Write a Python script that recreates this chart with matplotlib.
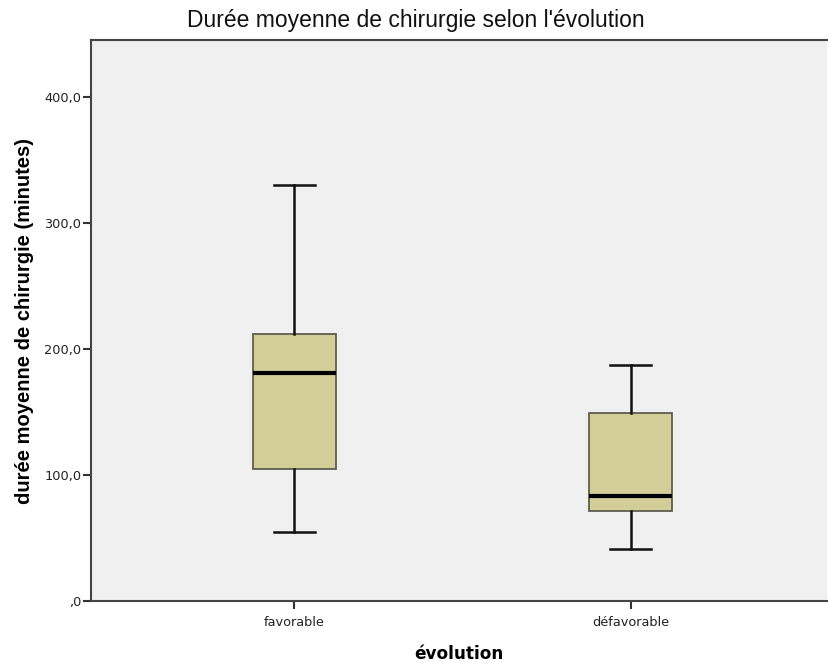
import matplotlib.pyplot as plt
from matplotlib.ticker import FuncFormatter

plt.rcParams['font.family'] = ['Liberation Sans', 'DejaVu Sans']

# Summary statistics per group (minutes)
groups = ['favorable', 'défavorable']
whisker_low = [54.5, 41.0]
q1 = [104.5, 71.5]
median = [181.0, 83.0]
q3 = [212.0, 149.5]
whisker_high = [330.0, 187.0]

stats = []
for i, g in enumerate(groups):
    stats.append({
        'label': g,
        'whislo': whisker_low[i],
        'q1': q1[i],
        'med': median[i],
        'q3': q3[i],
        'whishi': whisker_high[i],
        'fliers': [],
    })

fig = plt.figure(figsize=(8.29, 6.62), dpi=100)
ax = fig.add_axes([0.1098, 0.0921, 0.8880, 0.8475])
ax.set_facecolor('#f0f0f0')

ax.bxp(stats, positions=[1, 2], widths=0.246, patch_artist=True,
       showfliers=False, capwidths=0.122,
       boxprops=dict(facecolor='#d3ce98', edgecolor='#5e5e50', linewidth=1.3),
       medianprops=dict(color='black', linewidth=3),
       whiskerprops=dict(color='#111111', linewidth=1.8),
       capprops=dict(color='#111111', linewidth=1.8))

ax.set_xlim(0.395, 2.585)
ax.set_ylim(0, 445)
ax.set_yticks([0, 100, 200, 300, 400])

def fmt(v, pos):
    s = f"{v:.1f}".replace('.', ',')
    return s[1:] if s.startswith('0') else s

ax.yaxis.set_major_formatter(FuncFormatter(fmt))
ax.tick_params(axis='both', direction='out', length=6, width=1.5,
               color='#333333', labelsize=9.3, labelcolor='#222222')
ax.tick_params(axis='y', pad=1)
ax.tick_params(axis='x', pad=5)
for lbl in ax.get_xticklabels() + ax.get_yticklabels():
    lbl.set_family('DejaVu Sans')

for side in ['left', 'bottom', 'top']:
    ax.spines[side].set_color('#444444')
    ax.spines[side].set_linewidth(1.5)
ax.spines['right'].set_visible(False)

ax.set_xlabel('évolution', fontsize=12.2, fontweight='bold', labelpad=11,
              family='DejaVu Sans')
ax.set_ylabel('durée moyenne de chirurgie (minutes)', fontsize=14.5,
              fontweight='bold', labelpad=7)
fig.text(0.502, 0.969, "Durée moyenne de chirurgie selon l'évolution",
         ha='center', va='center', fontsize=16.5, color='#111111')

fig.savefig('out.png', dpi=100)
